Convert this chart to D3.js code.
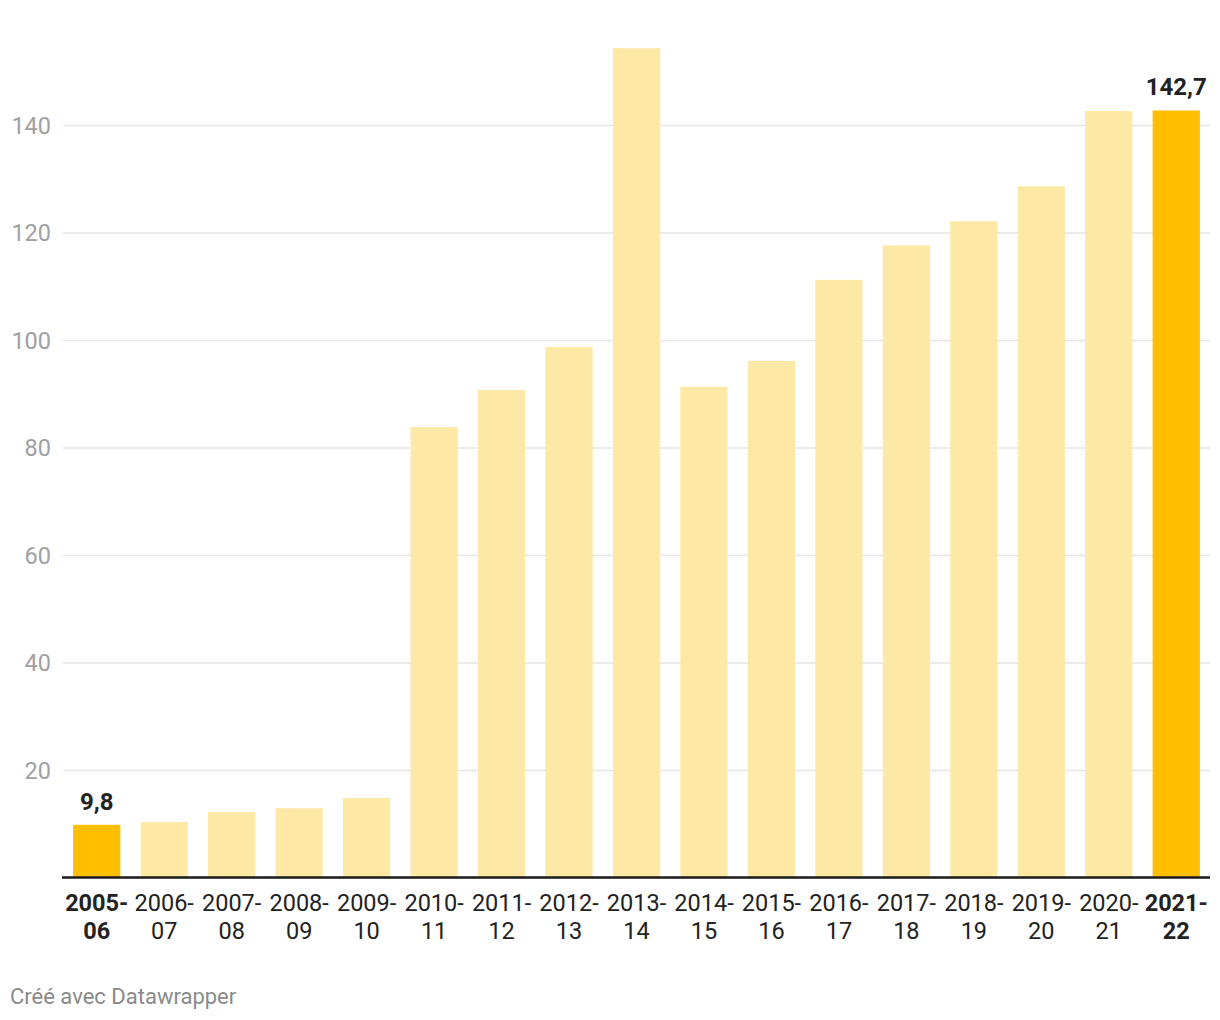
<!DOCTYPE html>
<html><head><meta charset="utf-8">
<script src="https://cdn.jsdelivr.net/npm/d3@7"></script>
<style>body{margin:0;background:#fff;font-family:Roboto,sans-serif;}</style>
</head><body>
<svg id="chart" width="1220" height="1020"></svg>
<script>
const categories = ["2005-06","2006-07","2007-08","2008-09","2009-10","2010-11","2011-12","2012-13","2013-14","2014-15","2015-16","2016-17","2017-18","2018-19","2019-20","2020-21","2021-22"];
const values = [9.8,10.3,12.2,12.9,14.8,83.8,90.7,98.7,154.3,91.3,96.1,111.2,117.6,122.1,128.6,142.6,142.7];
const highlighted = ["2005-06","2021-22"];
const yTicks = [20,40,60,80,100,120,140];
const footer = "Créé avec Datawrapper";

const svg = d3.select("#chart");
const x = d3.scaleBand().domain(categories).range([63,1210]).paddingInner(0.3).paddingOuter(0.15);
const y = d3.scaleLinear().domain([0,140]).range([877.5,125]);

// gridlines
const yAxis = d3.axisLeft(y).tickValues(yTicks).tickSize(0).tickFormat(d3.format("d"));
const gy = svg.append("g").attr("transform","translate(63,0)").call(yAxis);
gy.select(".domain").remove();
gy.selectAll(".tick line").attr("x2",1147).attr("stroke","#e5e5e5").attr("stroke-width",1.5);
gy.selectAll(".tick text").attr("x",-12).attr("fill","#a0a0a0").attr("font-size",23.5).attr("font-family","Roboto").attr("dy","0.35em");

// bars
svg.append("g").selectAll("rect").data(categories).join("rect")
  .attr("x",d=>x(d)).attr("width",x.bandwidth())
  .attr("y",(d,i)=>y(values[i])).attr("height",(d,i)=>y(0)-y(values[i]))
  .attr("fill",d=>highlighted.includes(d)?"#ffbf00":"#fde8a5");

// baseline axis
const xAxis = d3.axisBottom(x).tickSize(0).tickFormat("");
const gx = svg.append("g").attr("transform",`translate(0,${y(0)})`).call(xAxis);
gx.select(".domain").attr("stroke","#1a1a1a").attr("stroke-width",2.5).attr("d","M62,0H1210");

// x labels (two lines)
const lab = svg.append("g").selectAll("text").data(categories).join("text")
  .attr("text-anchor","middle").attr("font-size",23.5).attr("font-family","Roboto")
  .attr("fill","#222").attr("font-weight",d=>highlighted.includes(d)?"bold":"normal");
lab.append("tspan").attr("x",d=>x(d)+x.bandwidth()/2).attr("y",911).text(d=>d.split("-")[0]+"-");
lab.append("tspan").attr("x",d=>x(d)+x.bandwidth()/2).attr("y",939).text(d=>d.split("-")[1]);

// value labels for highlighted
svg.append("g").selectAll("text").data(categories.filter(d=>highlighted.includes(d))).join("text")
  .attr("x",d=>x(d)+x.bandwidth()/2)
  .attr("y",d=>y(values[categories.indexOf(d)])-15)
  .attr("text-anchor","middle").attr("font-size",24).attr("font-weight","bold").attr("font-family","Roboto").attr("fill","#222")
  .text(d=>d3.format(".1f")(values[categories.indexOf(d)]).replace(".",","));

svg.append("text").attr("x",10).attr("y",1004).attr("font-size",22).attr("font-family","Roboto").attr("fill","#8a8a8a").text(footer);
</script>
</body></html>
